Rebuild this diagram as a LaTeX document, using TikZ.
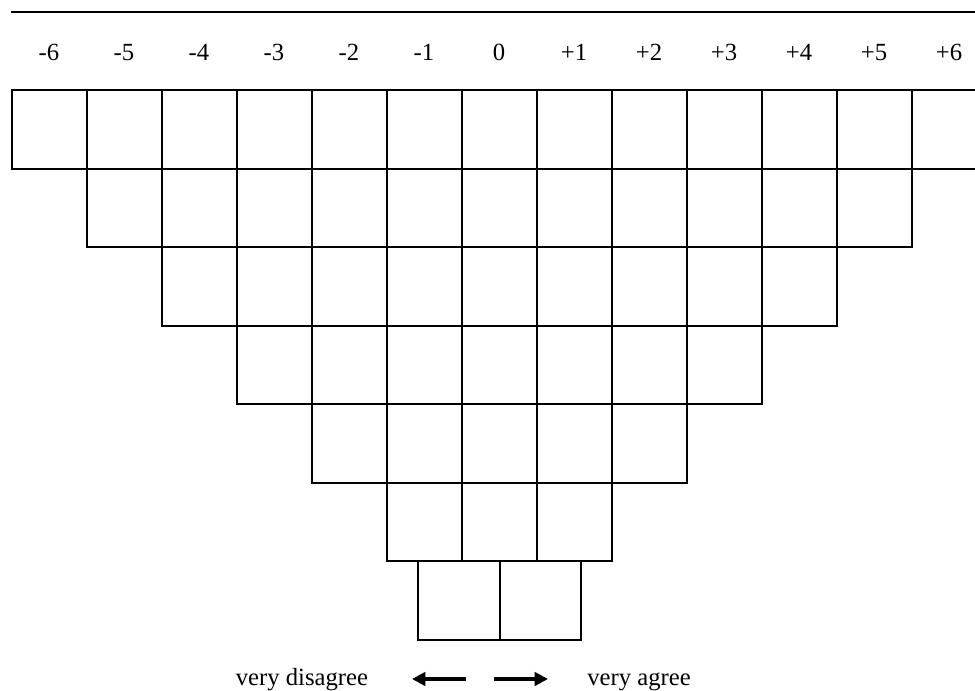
\documentclass[tikz,border=0pt]{standalone}
\usepackage{fontspec}
\setmainfont{Liberation Serif}
\usetikzlibrary{arrows.meta}
\tikzset{
  gridline/.style={line width=1.5pt,black},
  scalelabel/.style={font=\fontsize{18.5}{22}\selectfont,anchor=base},
  endlabel/.style={font=\fontsize{18.5}{22}\selectfont,anchor=base},
  bigarrow/.style={-{Triangle[length=10pt,width=10pt]},line width=3pt}
}
\begin{document}
\begin{tikzpicture}[x=0.75pt,y=-0.75pt]
	\clip (0,0) rectangle (975,691);
	\draw[gridline] (11,12.5) -- (975,12.5);
	% values of the scale
	\foreach \v [count=\i from 0] in {-6,-5,-4,-3,-2,-1,0,+1,+2,+3,+4,+5,+6}
	\node[scalelabel] (val\i) at (49+75*\i,61) {\v};
	% rows of cells, one cell less at each end per row
	\foreach \r in {0,...,5}
	\foreach \c in {\r,...,\numexpr12-\r\relax}
	\draw[gridline] (11.5+75*\c,90+78.57*\r) rectangle (86.5+75*\c,90+78.57*\r+78.57);
	% last row with two wider cells
	\draw[gridline] (418,561) rectangle (499.5,640);
	\draw[gridline] (499.5,561) rectangle (581,640);
	% ends of the scale
	\node[endlabel] (disagree) at (302,685) {very disagree};
	\node[endlabel] (agree) at (639,685) {very agree};
	\coordinate (leftstart) at (466,679);
	\coordinate (lefttip) at (412,679);
	\coordinate (rightstart) at (494,679);
	\coordinate (righttip) at (548,679);
	\draw[bigarrow] (leftstart) -- (lefttip);
	\draw[bigarrow] (rightstart) -- (righttip);
\end{tikzpicture}
\end{document}
